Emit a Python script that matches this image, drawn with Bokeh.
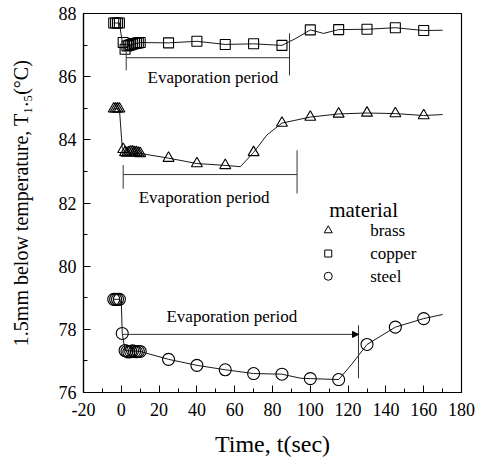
from bokeh.plotting import figure
from bokeh.models import Range1d, SingleIntervalTicker, Arrow, NormalHead
from bokeh.core.properties import value
from bokeh.embed import file_html
from bokeh.resources import INLINE

FONT = "Liberation Serif"

# ---- marker data ----
copper_t = [-4, -3, -2, -1, 1, 2, 3, 4, 5, 6, 7, 8, 9, 10, 25, 40, 55, 70, 85, 100, 115, 130, 145, 160]
copper_y = [87.7, 87.7, 87.7, 87.7, 87.08, 86.87, 86.97, 86.99, 87.01, 87.03, 87.05, 87.06, 87.07, 87.08,
            87.07, 87.12, 87.02, 87.04, 86.99, 87.48, 87.49, 87.5, 87.55, 87.46]
brass_t = [-4, -3, -2, -1, 1, 2, 3, 4, 5, 6, 7, 8, 9, 10, 25, 40, 55, 70, 85, 100, 115, 130, 145, 160]
brass_y = [84.98, 84.98, 84.98, 84.98, 83.7, 83.6, 83.58, 83.6, 83.62, 83.62, 83.6, 83.6, 83.58, 83.57,
           83.42, 83.25, 83.19, 83.6, 84.53, 84.72, 84.82, 84.85, 84.83, 84.77]
steel_t = [-4, -3, -2, -1, 0.5, 2, 3, 4, 5, 6, 7, 8, 9, 10, 25, 40, 55, 70, 85, 100, 115, 130, 145, 160]
steel_y = [78.95, 78.95, 78.95, 78.95, 77.87, 77.33, 77.3, 77.28, 77.3, 77.32, 77.3, 77.29, 77.3, 77.3,
           77.05, 76.86, 76.72, 76.6, 76.58, 76.44, 76.41, 77.52, 78.07, 78.34]

# ---- line data (markers plus a few extra points) ----
copper_line_t = [-4, -1, 0.5, 1, 2, 3, 10, 25, 40, 55, 70, 85, 92, 100, 107, 115, 130, 145, 160, 170]
copper_line_y = [87.7, 87.7, 87.1, 87.08, 86.87, 86.97, 87.08, 87.07, 87.12, 87.02, 87.04, 86.99, 87.2,
                 87.48, 87.37, 87.49, 87.5, 87.55, 87.46, 87.47]
brass_line_t = [-4, -1, 0.5, 1, 2, 10, 25, 40, 55, 63, 70, 77, 85, 100, 115, 130, 145, 160, 170]
brass_line_y = [84.98, 84.98, 83.75, 83.7, 83.6, 83.57, 83.42, 83.25, 83.19, 83.15, 83.6, 84.15, 84.53,
                84.72, 84.82, 84.85, 84.83, 84.77, 84.8]
steel_line_t = [-4, -1, 0, 0.5, 2, 10, 25, 40, 55, 70, 85, 95, 100, 115, 122, 130, 145, 160, 170]
steel_line_y = [78.95, 78.95, 78.9, 77.87, 77.33, 77.3, 77.05, 76.86, 76.72, 76.6, 76.58, 76.45, 76.44,
                76.41, 76.9, 77.52, 78.07, 78.34, 78.47]

# ---- evaporation-period annotations ----
evap_label = "Evaporation period"
evap_start = [2.6, 1.0, 0.5]      # copper, brass, steel
evap_end = [89.0, 93.0, 125.5]
evap_level = [86.6, 82.9, 77.84]
evap_text_x = [48.5, 43.8, 58.5]
evap_text_y = [85.97, 82.18, 78.41]

legend_title = "material"
legend_names = ["brass", "copper", "steel"]
legend_y = [81.13, 80.4, 79.68]

p = figure(width=481, height=459, output_backend="svg", toolbar_location=None,
           x_range=Range1d(-20, 180), y_range=Range1d(76, 88),
           min_border_left=83, min_border_right=20, min_border_top=13, min_border_bottom=67)
p.background_fill_color = "white"
p.border_fill_color = "white"
p.outline_line_color = "black"
p.outline_line_width = 1.2
p.grid.visible = False

p.xaxis.ticker = SingleIntervalTicker(interval=20, num_minor_ticks=2)
p.yaxis.ticker = SingleIntervalTicker(interval=2, num_minor_ticks=2)
p.xaxis.major_label_overrides = {-20: "-20"}
for ax in (p.xaxis[0], p.yaxis[0]):
    ax.major_tick_in = 7
    ax.major_tick_out = 0
    ax.minor_tick_in = 4
    ax.minor_tick_out = 0
    ax.axis_line_color = "black"
    ax.axis_line_width = 1.2
    ax.major_tick_line_color = "black"
    ax.minor_tick_line_color = "black"
    ax.major_label_text_font = FONT
    ax.major_label_text_font_size = "18px"
    ax.major_label_text_color = "black"
    ax.axis_label_text_font = FONT
    ax.axis_label_text_font_style = "normal"
    ax.axis_label_text_color = "black"

p.xaxis.axis_label = "Time, t(sec)"
p.xaxis.axis_label_text_font_size = "24px"
p.xaxis.major_label_standoff = 10
p.xaxis.axis_label_standoff = 12
p.yaxis.axis_label = "1.5mm below temperature, T\u2081.\u2085(\u00b0C)"
p.yaxis.axis_label_text_font_size = "20px"
p.yaxis.major_label_standoff = 7
p.yaxis.axis_label_standoff = 24

# lines
for lt, ly in ((copper_line_t, copper_line_y), (brass_line_t, brass_line_y), (steel_line_t, steel_line_y)):
    p.line(lt, ly, line_color="black", line_width=0.9)

# markers
p.scatter(copper_t, copper_y, marker="square", size=10, fill_color=None, line_color="black", line_width=1.1)
p.scatter(brass_t, brass_y, marker="triangle", size=11, fill_color=None, line_color="black", line_width=1.1)
p.scatter(steel_t, steel_y, marker="circle", size=12, fill_color=None, line_color="black", line_width=1.1)

# evaporation brackets
p.segment(evap_start, evap_level, evap_end, evap_level, line_color="#333333", line_width=1)
# vertical end bars (copper, brass, steel)
p.segment([evap_start[0], evap_end[0], evap_start[1], evap_end[1], evap_end[2]],
          [86.83, 87.37, 83.2, 83.67, 78.13],
          [evap_start[0], evap_end[0], evap_start[1], evap_end[1], evap_end[2]],
          [86.2, 86.04, 82.45, 82.3, 76.45],
          line_color="#333333", line_width=1)
p.add_layout(Arrow(end=NormalHead(size=6, fill_color="black", line_color="black"),
                   x_start=evap_end[2] - 8, y_start=evap_level[2], x_end=evap_end[2], y_end=evap_level[2],
                   line_width=0))
p.text(evap_text_x, evap_text_y, text=[evap_label] * 3, text_font=value(FONT), text_font_size="17px",
       text_align="center", text_baseline="middle", text_color="black")

# legend
p.text([110], [81.77], text=[legend_title], text_font=value(FONT), text_font_size="21px",
       text_align="left", text_baseline="middle", text_color="black")
p.scatter([109.5], [legend_y[0]], marker="triangle", size=8, fill_color=None, line_color="black")
p.scatter([109.5], [legend_y[1]], marker="square", size=7, fill_color=None, line_color="black")
p.scatter([109.5], [legend_y[2]], marker="circle", size=8, fill_color=None, line_color="black")
p.text([131.7] * 3, legend_y, text=legend_names, text_font=value(FONT), text_font_size="17px",
       text_align="left", text_baseline="middle", text_color="black")

open("out.html", "w").write(file_html(p, INLINE))
